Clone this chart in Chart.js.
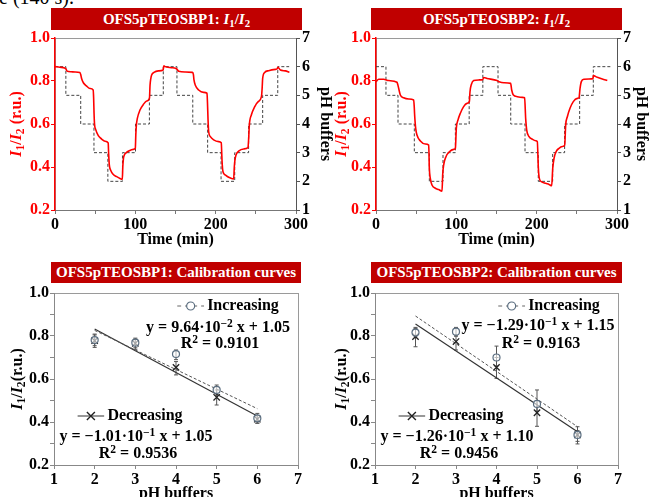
<!DOCTYPE html>
<html>
<head>
<meta charset="utf-8">
<script src="https://cdn.jsdelivr.net/npm/chart.js@4.4.0/dist/chart.umd.min.js"></script>
<style>
html, body { margin: 0; padding: 0; width: 649px; height: 497px; overflow: hidden; background: #fff; }
body { position: relative; font-family: 'Liberation Serif', 'DejaVu Serif', serif; }
canvas { position: absolute; }
.caption { position: absolute; left: -1px; top: -13px; font-size: 20px; line-height: 20px; white-space: nowrap; }
.bar { position: absolute; background: #c00000; color: #fff; font-weight: bold; font-size: 15px; text-align: center; white-space: nowrap; }
.ytitle { position: absolute; font-weight: bold; font-size: 16px; white-space: nowrap; transform: translate(-50%, -50%) rotate(-90deg); }
.note { position: absolute; font-weight: bold; font-size: 16px; line-height: 16px; white-space: nowrap; transform: translate(-50%, -50%); }
.note svg { vertical-align: middle; margin-right: 3px; }
sub { font-size: 0.72em; vertical-align: -0.3em; line-height: 0; }
sup { font-size: 0.72em; vertical-align: 0.45em; line-height: 0; }
</style>
</head>
<body>
<div class="caption">e (140 s).</div>

<canvas id="p1" width="335" height="232" style="left:0px;top:20px"></canvas>
<canvas id="p2" width="326" height="232" style="left:326px;top:20px"></canvas>
<canvas id="p3" width="325" height="260" style="left:0px;top:255px"></canvas>
<canvas id="p4" width="323" height="260" style="left:326px;top:255px"></canvas>

<div class="bar" style="left:51px;top:8px;width:251px;height:22px;line-height:22px">OFS5pTEOSBP1: <i>I</i><sub>1</sub>/<i>I</i><sub>2</sub></div>
<div class="bar" style="left:371px;top:8px;width:251px;height:22px;line-height:22px">OFS5pTEOSBP2: <i>I</i><sub>1</sub>/<i>I</i><sub>2</sub></div>
<div class="bar" style="left:51px;top:262px;width:250px;height:21px;line-height:21px">OFS5pTEOSBP1: Calibration curves</div>
<div class="bar" style="left:371px;top:262px;width:251px;height:21px;line-height:21px">OFS5pTEOSBP2: Calibration curves</div>

<div class="ytitle" style="left:16px;top:124px;color:#ff0000"><i>I</i><sub>1</sub>/<i>I</i><sub>2</sub> (r.u.)</div>
<div class="ytitle" style="left:341px;top:124px;color:#ff0000"><i>I</i><sub>1</sub>/<i>I</i><sub>2</sub> (r.u.)</div>
<div class="ytitle" style="left:17px;top:379px"><i>I</i><sub>1</sub>/<i>I</i><sub>2</sub>(r.u.)</div>
<div class="ytitle" style="left:341px;top:379px"><i>I</i><sub>1</sub>/<i>I</i><sub>2</sub>(r.u.)</div>

<!-- calibration legends and fit equations -->
<div class="note" style="left:228px;top:305px"><svg width="27" height="10"><line x1="0" y1="5" x2="27" y2="5" stroke="#666" stroke-dasharray="4,4"/><circle cx="13.5" cy="5" r="4" fill="#fff" stroke="#5b6e80" stroke-width="1.2"/></svg>Increasing</div>
<div class="note" style="left:218px;top:327px">y = 9.64·10<sup>−2</sup> x + 1.05</div>
<div class="note" style="left:220px;top:343px">R<sup>2</sup> = 0.9101</div>
<div class="note" style="left:130px;top:415px"><svg width="27" height="10"><line x1="0" y1="5" x2="27" y2="5" stroke="#333" stroke-width="1.2"/><path d="M9.5 1 L17.5 9 M17.5 1 L9.5 9" stroke="#222" stroke-width="1.4"/></svg>Decreasing</div>
<div class="note" style="left:136px;top:436px">y = −1.01·10<sup>−1</sup> x + 1.05</div>
<div class="note" style="left:138px;top:453px">R<sup>2</sup> = 0.9536</div>

<div class="note" style="left:549px;top:305px"><svg width="27" height="10"><line x1="0" y1="5" x2="27" y2="5" stroke="#666" stroke-dasharray="4,4"/><circle cx="13.5" cy="5" r="4" fill="#fff" stroke="#5b6e80" stroke-width="1.2"/></svg>Increasing</div>
<div class="note" style="left:538px;top:325px">y = −1.29·10<sup>−1</sup> x + 1.15</div>
<div class="note" style="left:541px;top:343px">R<sup>2</sup> = 0.9163</div>
<div class="note" style="left:451px;top:415px"><svg width="27" height="10"><line x1="0" y1="5" x2="27" y2="5" stroke="#333" stroke-width="1.2"/><path d="M9.5 1 L17.5 9 M17.5 1 L9.5 9" stroke="#222" stroke-width="1.4"/></svg>Decreasing</div>
<div class="note" style="left:457px;top:436px">y = −1.26·10<sup>−1</sup> x + 1.10</div>
<div class="note" style="left:459px;top:453px">R<sup>2</sup> = 0.9456</div>

<script>
// ---- top panels: I1/I2 trace and pH buffer steps ----
const timeP1 = [0, 6, 12, 13.7, 15, 20, 25, 31, 32, 33.2, 35.3, 39.4, 43.6, 47.5, 48.1, 48.6, 49.2, 50.6, 53.9, 58.1, 62.2, 66.2,
  66.8, 67.6, 69.3, 72.6, 76.8, 80.9, 83.8, 84.4, 85.2, 86.2, 88.4, 92.5, 97.5, 100, 100.6, 101.3, 102.5, 105.8, 110, 114.1, 117.6,
  118.3, 119.2, 120.3, 123.2, 128.6, 134.6, 135.5, 136.5, 139, 145, 150, 152, 154, 162, 171, 172.3, 173, 174.7, 178.8, 185, 189.2,
  189.8, 190.5, 191.3, 193.4, 197.5, 203.7, 207, 207.6, 208.2, 209.1, 212, 216.2, 222.4, 223.2, 223.9, 225.3, 228.6, 234.9, 240.2,
  241.2, 241.9, 244.4, 248.5, 252.7, 257, 257.9, 258.5, 261, 266, 274.3, 276.5, 277.5, 280.5, 286.7, 291.7];
const ratioP1 = [0.867, 0.864, 0.860, 0.856, 0.846, 0.843, 0.842, 0.840, 0.830, 0.810, 0.792, 0.776, 0.765, 0.758, 0.720, 0.650, 0.600, 0.575, 0.546, 0.530, 0.520, 0.512,
  0.460, 0.410, 0.385, 0.365, 0.355, 0.347, 0.343, 0.400, 0.440, 0.455, 0.466, 0.476, 0.482, 0.487, 0.550, 0.595, 0.626, 0.665, 0.691, 0.707, 0.720,
  0.780, 0.810, 0.828, 0.840, 0.847, 0.851, 0.871, 0.868, 0.865, 0.862, 0.859, 0.854, 0.845, 0.842, 0.840, 0.830, 0.805, 0.780, 0.758, 0.747, 0.743,
  0.700, 0.620, 0.564, 0.541, 0.526, 0.518, 0.513, 0.460, 0.410, 0.378, 0.363, 0.352, 0.344, 0.400, 0.430, 0.456, 0.474, 0.484, 0.490,
  0.540, 0.595, 0.642, 0.680, 0.703, 0.727, 0.770, 0.812, 0.840, 0.848, 0.854, 0.856, 0.864, 0.851, 0.847, 0.840];
const stepTimeP1 = [0, 13.5, 32, 48.5, 65.8, 84, 100.2, 117.5, 134.8, 151.8, 171.5, 190, 206.7, 223.7, 241, 258.5, 277.3, 291.5];
const stepPhP1 = [6, 5, 4, 3, 2, 3, 4, 5, 6, 5, 4, 3, 2, 3, 4, 5, 6, 6];

const timeP2 = [0, 3.3, 9.5, 15.8, 26.1, 27.2, 28.2, 30.3, 34.4, 40.7, 46.9, 47.6, 48.1, 49.4, 51, 55.2, 61.4, 65.6, 66.4, 67.6, 69.7,
  73.9, 78, 82.2, 83, 84.2, 87.1, 91.3, 96.7, 98.8, 100, 102.1, 105, 109.1, 113.3, 116.2, 117, 118.7, 121.6, 127.8, 132.8, 134, 138.2,
  150.6, 153.1, 159.3, 167.6, 168.9, 171, 176, 182.2, 185, 186.3, 187.6, 190.5, 194.6, 198.8, 200.8, 202.1, 203.3, 205.8, 211.2, 215.4,
  218.7, 220, 221.6, 224.1, 227.8, 232, 234.9, 236.1, 238.2, 241.5, 245.6, 250.6, 252.7, 254, 255.6, 258.9, 265.1, 270.1, 270.5, 275.5,
  281.7, 287.9];
const ratioP2 = [0.797, 0.808, 0.808, 0.802, 0.794, 0.782, 0.766, 0.735, 0.722, 0.716, 0.712, 0.680, 0.642, 0.580, 0.549, 0.521, 0.507, 0.502, 0.394, 0.347, 0.316,
  0.301, 0.295, 0.288, 0.363, 0.409, 0.448, 0.471, 0.482, 0.487, 0.580, 0.619, 0.650, 0.681, 0.696, 0.704, 0.750, 0.784, 0.802, 0.805, 0.806, 0.816, 0.812,
  0.802, 0.797, 0.792, 0.789, 0.758, 0.735, 0.727, 0.724, 0.722, 0.626, 0.572, 0.541, 0.529, 0.522, 0.518, 0.394, 0.347, 0.332, 0.324, 0.319,
  0.313, 0.394, 0.440, 0.471, 0.487, 0.495, 0.502, 0.595, 0.634, 0.673, 0.704, 0.719, 0.722, 0.766, 0.797, 0.808, 0.809, 0.811, 0.825, 0.817,
  0.809, 0.802];
const stepTimeP2 = [0, 12.4, 27.4, 47.7, 66.4, 83.4, 98.8, 116, 133, 151.9, 167.7, 185.5, 202, 219.9, 234.8, 253.5, 270.5, 294];
const stepPhP2 = [6, 5, 4, 3, 2, 3, 4, 5, 6, 5, 4, 3, 2, 3, 4, 5, 6, 6];

// ---- bottom panels: calibration points, error limits and fit lines ----
const phLevels = [2, 3, 4, 5, 6];
const incP3 = [0.781, 0.769, 0.716, 0.549, 0.417];
const incLowP3 = [0.755, 0.745, 0.690, 0.525, 0.395];
const incHighP3 = [0.809, 0.790, 0.735, 0.572, 0.440];
const decP3 = [0.778, 0.766, 0.654, 0.515, 0.413];
const decLowP3 = [0.747, 0.738, 0.619, 0.479, 0.394];
const decHighP3 = [0.805, 0.785, 0.681, 0.549, 0.430];

const incP4 = [0.816, 0.820, 0.700, 0.484, 0.340];
const incLowP4 = [0.800, 0.800, 0.660, 0.450, 0.310];
const incHighP4 = [0.835, 0.840, 0.753, 0.549, 0.378];
const decP4 = [0.797, 0.774, 0.654, 0.443, 0.340];
const decLowP4 = [0.750, 0.735, 0.603, 0.380, 0.298];
const decHighP4 = [0.840, 0.800, 0.700, 0.500, 0.360];

const fitX = [2, 6];
const fitIncP3 = [0.826, 0.462];
const fitDecP3 = [0.833, 0.428];
const fitIncP4 = [0.893, 0.378];
const fitDecP4 = [0.856, 0.355];

Chart.defaults.font.family = "'Liberation Serif', 'DejaVu Serif', serif";
Chart.defaults.font.weight = 'bold';
Chart.defaults.font.size = 16;
Chart.defaults.color = '#000';

const pts = (xs, ys) => xs.map((x, i) => ({ x: x, y: ys[i] }));

// grey frame around the plot area (scale borders are drawn on top of it)
const frame = {
  id: 'frame',
  beforeDraw(chart) {
    const a = chart.chartArea, ctx = chart.ctx;
    ctx.save();
    ctx.strokeStyle = '#9a9a9a';
    ctx.lineWidth = 1;
    ctx.strokeRect(Math.round(a.left) + 0.5, Math.round(a.top) + 0.5, Math.round(a.width), Math.round(a.height));
    ctx.restore();
  }
};

// vertical error bars from errLow / errHigh arrays on a dataset
const errorBars = {
  id: 'errorBars',
  beforeDatasetsDraw(chart) {
    const { ctx, scales: { x, y } } = chart;
    chart.data.datasets.forEach(ds => {
      if (!ds.errLow) return;
      ctx.save();
      ctx.strokeStyle = '#555';
      ctx.lineWidth = 1;
      ds.data.forEach((p, i) => {
        const px = x.getPixelForValue(p.x);
        const lo = y.getPixelForValue(ds.errLow[i]);
        const hi = y.getPixelForValue(ds.errHigh[i]);
        ctx.beginPath();
        ctx.moveTo(px, lo); ctx.lineTo(px, hi);
        ctx.moveTo(px - 2, lo); ctx.lineTo(px + 2, lo);
        ctx.moveTo(px - 2, hi); ctx.lineTo(px + 2, hi);
        ctx.stroke();
      });
      ctx.restore();
    });
  }
};

function timePanel(id, times, ratios, stepTimes, stepPh, g) {
  new Chart(document.getElementById(id), {
    type: 'line',
    data: {
      datasets: [
        { data: pts(times, ratios), yAxisID: 'y', borderColor: '#ff0000', borderWidth: 1.6,
          pointRadius: 0, cubicInterpolationMode: 'monotone' },
        { data: pts(stepTimes, stepPh), yAxisID: 'y1', borderColor: '#444', borderWidth: 1,
          borderDash: [3, 2], pointRadius: 0, stepped: true }
      ]
    },
    options: {
      responsive: false,
      animation: false,
      layout: { padding: { top: g.top } },
      plugins: { legend: { display: false }, tooltip: { enabled: false } },
      scales: {
        x: {
          type: 'linear', min: 0, max: 300,
          afterFit: s => { s.height = g.bottom; },
          ticks: { stepSize: 50, autoSkip: false, maxRotation: 0, padding: 1,
                   callback: v => (v % 100 === 0 ? v : '') },
          grid: { drawOnChartArea: false, tickLength: 4, color: '#777' },
          border: { color: '#777' },
          title: { display: true, text: 'Time (min)', padding: { top: 0, bottom: 2.4 } }
        },
        y: {
          position: 'left', min: 0.2, max: 1.0,
          afterFit: s => { s.width = g.left; },
          ticks: { stepSize: 0.2, color: '#ff0000', padding: 1, callback: v => v.toFixed(1) },
          grid: { drawOnChartArea: false, tickLength: 4, color: '#ff0000' },
          border: { color: '#ff0000', width: 1.5 }
        },
        y1: {
          position: 'right', min: 1, max: 7,
          afterFit: s => { s.width = g.right; },
          ticks: { stepSize: 1, padding: 2 },
          grid: { drawOnChartArea: false, tickLength: 4, color: '#555' },
          border: { color: '#555' },
          title: { display: true, text: 'pH buffers', padding: { top: g.titlePad, bottom: 0 } }
        }
      }
    },
    plugins: [frame]
  });
}

function calibPanel(id, inc, incLow, incHigh, dec, decLow, decHigh, fitInc, fitDec, g) {
  new Chart(document.getElementById(id), {
    type: 'scatter',
    data: {
      datasets: [
        { label: 'Increasing', data: pts(phLevels, inc), errLow: incLow, errHigh: incHigh,
          pointStyle: 'circle', pointRadius: 3.5, borderColor: '#5b6e80', borderWidth: 1.2,
          backgroundColor: 'rgba(255,255,255,0.6)' },
        { label: 'Decreasing', data: pts(phLevels, dec), errLow: decLow, errHigh: decHigh,
          pointStyle: 'crossRot', pointRadius: 4.5, borderColor: '#222', borderWidth: 1.3 },
        { label: 'Increasing fit', data: pts(fitX, fitInc), showLine: true, pointRadius: 0,
          borderColor: '#555', borderWidth: 1, borderDash: [3, 2] },
        { label: 'Decreasing fit', data: pts(fitX, fitDec), showLine: true, pointRadius: 0,
          borderColor: '#333', borderWidth: 1.2 }
      ]
    },
    options: {
      responsive: false,
      animation: false,
      layout: { padding: { top: g.top, right: g.right } },
      plugins: { legend: { display: false }, tooltip: { enabled: false } },
      scales: {
        x: {
          min: 1, max: 7,
          afterFit: s => { s.height = g.bottom; },
          ticks: { stepSize: 1, padding: 1 },
          grid: { drawOnChartArea: false, tickLength: 4, color: '#888' },
          border: { color: '#888' },
          title: { display: true, text: 'pH buffers', padding: { top: 0, bottom: 11.4 } }
        },
        y: {
          min: 0.2, max: 1.0,
          afterFit: s => { s.width = g.left; },
          ticks: { stepSize: 0.1, autoSkip: false, padding: 1,
                   callback: v => (Math.round(v * 10) % 2 === 0 ? v.toFixed(1) : '') },
          grid: { drawOnChartArea: false, tickLength: 4, color: '#888' },
          border: { color: '#888' }
        }
      }
    },
    plugins: [frame, errorBars]
  });
}

timePanel('p1', timeP1, ratioP1, stepTimeP1, stepPhP1, { top: 18, bottom: 42, left: 55, right: 39, titlePad: 0.4 });
timePanel('p2', timeP2, ratioP2, stepTimeP2, stepPhP2, { top: 18, bottom: 42, left: 50, right: 35, titlePad: 1.4 });
calibPanel('p3', incP3, incLowP3, incHighP3, decP3, decLowP3, decHighP3, fitIncP3, fitDecP3, { top: 38, bottom: 50, left: 54, right: 27 });
calibPanel('p4', incP4, incLowP4, incHighP4, decP4, decLowP4, decHighP4, fitIncP4, fitDecP4, { top: 38, bottom: 50, left: 49, right: 31 });
</script>
</body>
</html>
